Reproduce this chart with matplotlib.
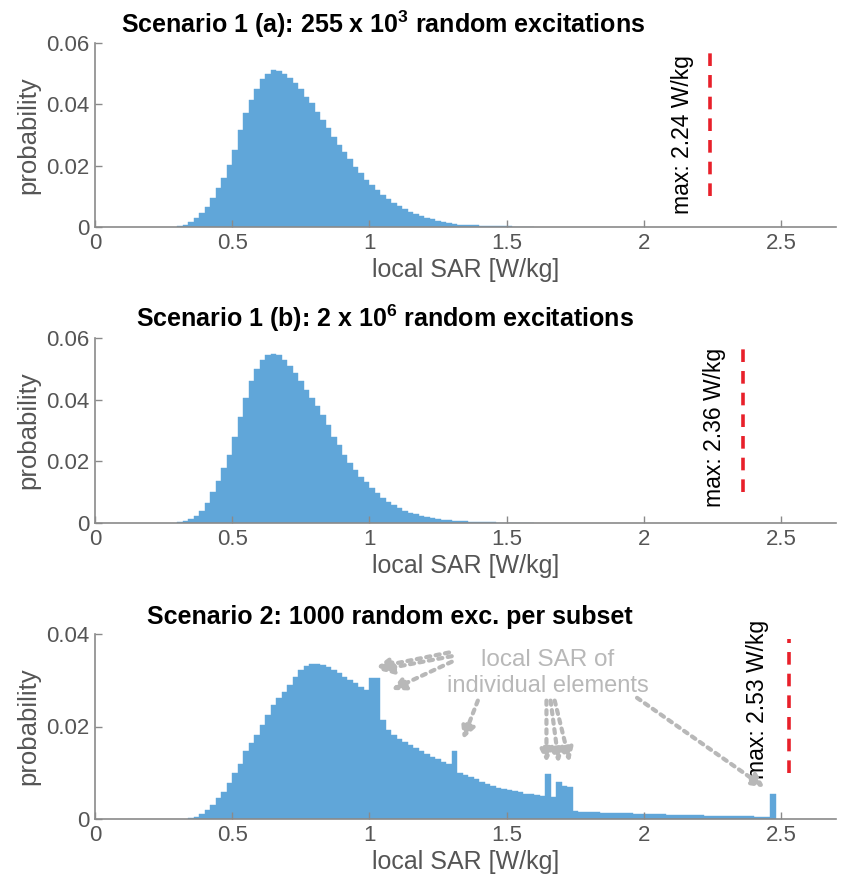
# local SAR histograms - three scenarios stacked
import numpy as np
import matplotlib
matplotlib.use("Agg")
import matplotlib.pyplot as plt

plt.rcParams['font.family'] = ['Liberation Sans', 'DejaVu Sans']
plt.rcParams['mathtext.fontset'] = 'custom'
plt.rcParams['mathtext.bf'] = 'Liberation Sans:bold'
plt.rcParams['mathtext.rm'] = 'Liberation Sans:bold'

bin_width = 0.02

# Scenario 1 (a): 255 x 10^3 excitations, bins start at 0.30
start_1a = 0.30
prob_1a = [0.0003, 0.0007, 0.0017, 0.0028, 0.0045, 0.0066, 0.0093, 0.0126, 0.0159, 0.0202,
           0.0251, 0.0316, 0.0371, 0.0414, 0.0449, 0.0482, 0.0499, 0.0512, 0.0510, 0.0499,
           0.0485, 0.0468, 0.0449, 0.0425, 0.0403, 0.0376, 0.0349, 0.0322, 0.0295, 0.0267,
           0.0246, 0.0221, 0.0197, 0.0175, 0.0153, 0.0137, 0.0121, 0.0104, 0.0090, 0.0079,
           0.0068, 0.0059, 0.0050, 0.0042, 0.0036, 0.0029, 0.0025, 0.0021, 0.0016, 0.0013,
           0.0010, 0.0008, 0.0007, 0.0006, 0.0005, 0.0004, 0.0003, 0.0003, 0.0002, 0.0002,
           0.0002, 0.0001, 0.0001, 0.0001, 0.0001]
max_1a = 2.24

# Scenario 1 (b): 2 x 10^6 excitations
start_1b = 0.30
prob_1b = [0.0003, 0.0007, 0.0014, 0.0024, 0.0040, 0.0065, 0.0100, 0.0135, 0.0180, 0.0222,
           0.0280, 0.0343, 0.0405, 0.0460, 0.0500, 0.0530, 0.0545, 0.0548, 0.0545, 0.0530,
           0.0510, 0.0485, 0.0462, 0.0430, 0.0405, 0.0380, 0.0350, 0.0318, 0.0280, 0.0253,
           0.0222, 0.0194, 0.0172, 0.0150, 0.0134, 0.0113, 0.0097, 0.0080, 0.0069, 0.0058,
           0.0048, 0.0040, 0.0034, 0.0028, 0.0023, 0.0019, 0.0016, 0.0013, 0.0011, 0.0009,
           0.0007, 0.0006, 0.0005, 0.0004, 0.0003, 0.0003, 0.0002, 0.0002, 0.0001, 0.0001,
           0.0001, 0.0001, 0.0001, 0.0000, 0.0000]
max_1b = 2.36

# Scenario 2: 1000 random excitations per subset, bins start at 0.34
start_2 = 0.34
prob_2 = [0.0002, 0.0005, 0.0010, 0.0019, 0.0030, 0.0045, 0.0059, 0.0077, 0.0099, 0.0120,
          0.0146, 0.0164, 0.0182, 0.0203, 0.0225, 0.0247, 0.0261, 0.0275, 0.0290, 0.0308,
          0.0322, 0.0331, 0.0335, 0.0335, 0.0332, 0.0328, 0.0322, 0.0315, 0.0308, 0.0301,
          0.0293, 0.0286, 0.0280, 0.0304, 0.0304, 0.0214, 0.0193, 0.0182, 0.0174, 0.0167,
          0.0160, 0.0153, 0.0146, 0.0140, 0.0134, 0.0129, 0.0124, 0.0119, 0.0148, 0.0099,
          0.0095, 0.0090, 0.0086, 0.0080, 0.0076, 0.0072, 0.0068, 0.0065, 0.0062, 0.0060,
          0.0058, 0.0055, 0.0053, 0.0051, 0.0049, 0.0097, 0.0047, 0.0080, 0.0072, 0.0070,
          0.0017, 0.0016, 0.0016, 0.0015, 0.0015, 0.0014, 0.0014, 0.0013, 0.0013, 0.0012,
          0.0012, 0.0011, 0.0011, 0.0011, 0.0010, 0.0010, 0.0010, 0.0009, 0.0009, 0.0009,
          0.0008, 0.0008, 0.0008, 0.0008, 0.0007, 0.0007, 0.0007, 0.0007, 0.0006, 0.0006,
          0.0006, 0.0006, 0.0006, 0.0005, 0.0005, 0.0005, 0.0053]
max_2 = 2.53

bar_color = '#60a6d9'
text_gray = '#555555'
axis_gray = '#8a8a8a'

fig = plt.figure(figsize=(8.49, 8.83), dpi=100)

left = 95 / 849
width = 741 / 849
ax1 = fig.add_axes([left, 1 - 227 / 883, width, 184 / 883])
ax2 = fig.add_axes([left, 1 - 523 / 883, width, 185 / 883])
ax3 = fig.add_axes([left, 1 - 819 / 883, width, 185 / 883])


def draw_hist(ax, start, probs, ymax, yticks, max_val, line_lo, line_hi, label_xy):
    edges = start + bin_width * np.arange(len(probs) + 1)
    ax.stairs(probs, edges, fill=True, facecolor=bar_color, edgecolor=bar_color, linewidth=0.3)
    ax.set_xlim(0, 2.7)
    ax.set_ylim(0, ymax)
    ax.set_xticks([0, 0.5, 1, 1.5, 2, 2.5])
    ax.set_xticklabels(['0', '0.5', '1', '1.5', '2', '2.5'])
    ax.set_yticks(yticks)
    ax.set_yticklabels(['0' if t == 0 else '%.2f' % t for t in yticks])
    for s in ['top', 'right']:
        ax.spines[s].set_visible(False)
    for s in ['left', 'bottom']:
        ax.spines[s].set_color(axis_gray)
        ax.spines[s].set_linewidth(1.2)
    ax.tick_params(direction='in', length=5, width=1, color=axis_gray,
                   labelcolor=text_gray, labelsize=16, pad=4)
    ax.set_xlabel('local SAR [W/kg]', color=text_gray, fontsize=18, labelpad=3)
    ax.set_ylabel('probability', color=text_gray, fontsize=18.5, labelpad=4)
    # max marker
    ax.plot([max_val, max_val], [line_lo, line_hi], color='#e8202a', lw=2.6,
            linestyle=(0, (3.5, 2.5)))
    ax.text(label_xy[0], label_xy[1], 'max: %.2f W/kg' % max_val, rotation=90,
            ha='center', va='center', fontsize=16.5, color='black')


draw_hist(ax1, start_1a, prob_1a, 0.06, [0, 0.02, 0.04, 0.06], max_1a, 0.010, 0.057, (2.142, 0.030))
draw_hist(ax2, start_1b, prob_1b, 0.06, [0, 0.02, 0.04, 0.06], max_1b, 0.010, 0.057, (2.258, 0.031))
draw_hist(ax3, start_2, prob_2, 0.04, [0, 0.02, 0.04], max_2, 0.010, 0.039, (2.414, 0.0258))

# titles (placed like the original, left of axes centre)
fig.text(383 / 849, 1 - 24 / 883, r'Scenario 1 (a): 255 x 10$^{\mathbf{3}}$ random excitations',
         ha='center', va='center', fontsize=18, fontweight='bold')
fig.text(385 / 849, 1 - 318 / 883, r'Scenario 1 (b): 2 x 10$^{\mathbf{6}}$ random excitations',
         ha='center', va='center', fontsize=18, fontweight='bold')
fig.text(390 / 849, 1 - 617 / 883, 'Scenario 2: 1000 random exc. per subset',
         ha='center', va='center', fontsize=18, fontweight='bold')

# annotation of single-element peaks
ann_gray = '#b8b8b8'
ax3.text(1.65, 0.0344, 'local SAR of', ha='center', va='center',
         fontsize=17.5, color=ann_gray)
ax3.text(1.65, 0.0287, 'individual elements', ha='center', va='center',
         fontsize=17, color=ann_gray)
arrow_kw = dict(arrowstyle='-|>', color=ann_gray, lw=3, linestyle=(0, (1, 1.3)),
                mutation_scale=20, shrinkA=0, shrinkB=0)
arrows = [((1.29, 0.0360), (1.025, 0.0328)),
          ((1.30, 0.0352), (1.035, 0.0322)),
          ((1.30, 0.0340), (1.08, 0.0279)),
          ((1.395, 0.0256), (1.34, 0.0172)),
          ((1.645, 0.0256), (1.645, 0.0122)),
          ((1.660, 0.0256), (1.690, 0.0121)),
          ((1.675, 0.0256), (1.730, 0.0123)),
          ((1.975, 0.0262), (2.44, 0.0068))]
for (x0, y0), (x1, y1) in arrows:
    ax3.annotate('', xy=(x1, y1), xytext=(x0, y0), arrowprops=arrow_kw)

fig.savefig('out.png', dpi=100)
